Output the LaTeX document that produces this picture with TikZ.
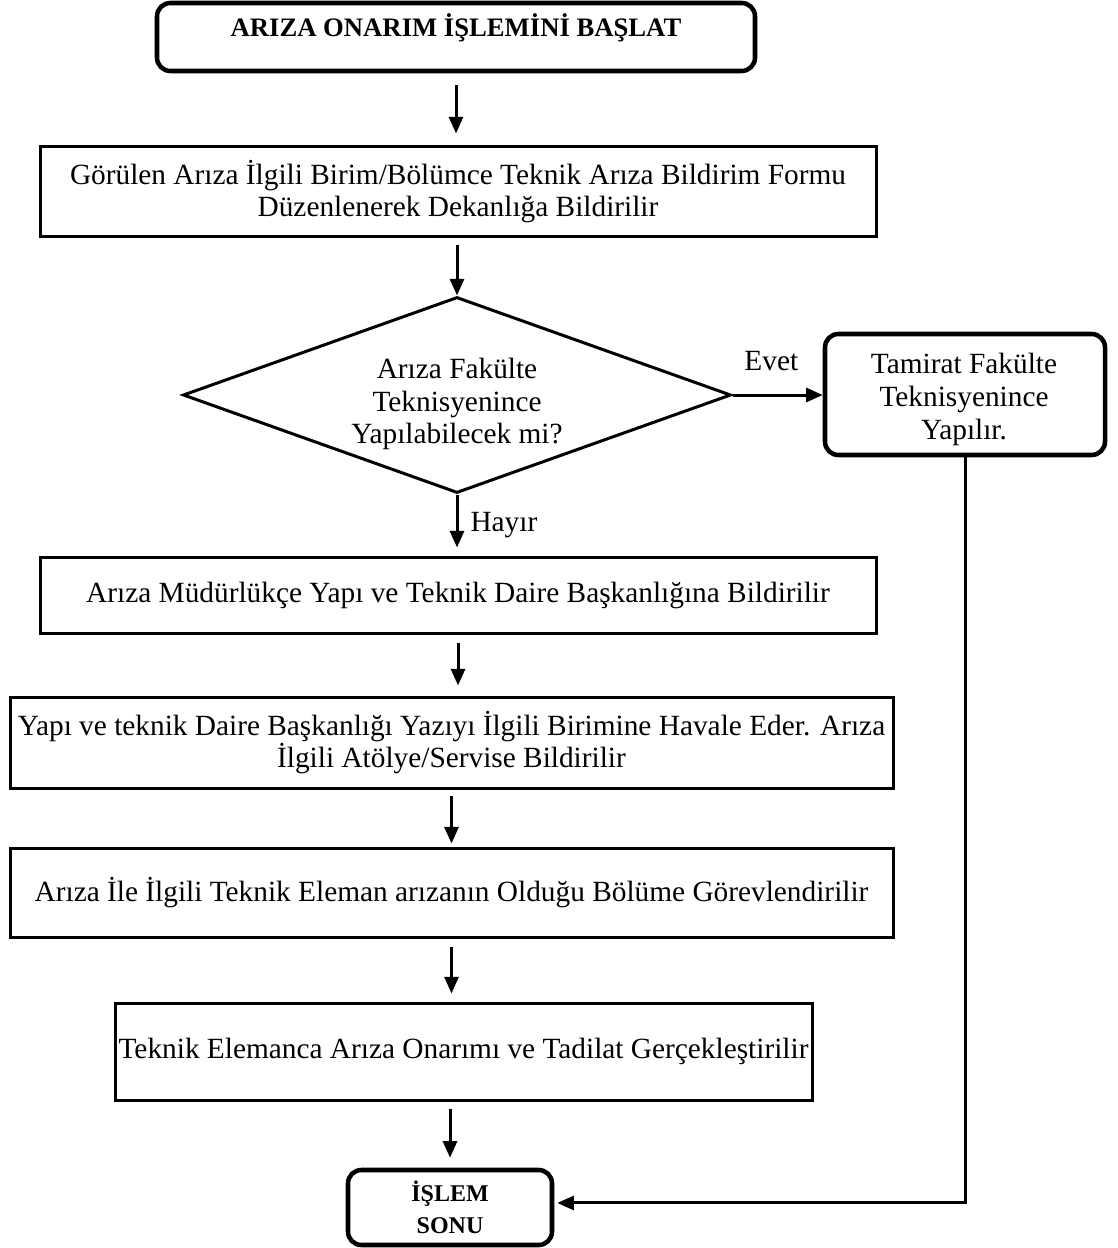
\documentclass[tikz,border=0pt]{standalone}
\usepackage{fontspec}
\setmainfont{Liberation Serif}
\usetikzlibrary{shapes.geometric,arrows.meta,calc}
\begin{document}
\begin{tikzpicture}[x=0.75pt,y=-0.75pt,
  every node/.style={font=\fontsize{22}{24}\selectfont},
  box/.style={draw, line width=2.25pt, rectangle, align=center, inner sep=0pt},
  rbox/.style={draw, line width=3.4pt, rounded corners=10pt, align=center, inner sep=0pt},
  dec/.style={diamond, draw, line width=2.25pt, aspect=2.8, inner sep=0pt},
  txt/.style={align=center, inner sep=0pt, font=\fontsize{22}{24.6}\selectfont},
  arr/.style={line width=2.25pt, -{Triangle[length=12.5pt,width=10.5pt]}},
  lbl/.style={inner sep=0pt}]
\useasboundingbox (0,0) rectangle (1117,1248);

\node[rbox, minimum width=448.5pt, minimum height=51pt, text height=14pt, text depth=14pt,
  font=\bfseries\fontsize{20}{24}\selectfont] (start) at (456,37) {ARIZA ONARIM İŞLEMİNİ BAŞLAT};

\node[box, minimum width=627pt, minimum height=67.5pt] (b2) at (458,192)
  {Görülen Arıza İlgili Birim/Bölümce Teknik Arıza Bildirim Formu\\Düzenlenerek Dekanlığa Bildirilir};

\node[dec, minimum width=411pt, minimum height=147pt] (q) at (457,395) {};
\node[txt] (qt) at (457,404) {Arıza Fakülte\\Teknisyenince\\Yapılabilecek mi?};

\node[rbox, minimum width=210pt, minimum height=90.75pt] (tam) at (965,394.5) {};
\node[txt] (tamt) at (964,399.5) {Tamirat Fakülte\\Teknisyenince\\Yapılır.};

\node[box, minimum width=627pt, minimum height=57pt] (b3) at (458,595)
  {Arıza Müdürlükçe Yapı ve Teknik Daire Başkanlığına Bildirilir};

\node[box, minimum width=662.25pt, minimum height=68.25pt] (b4) at (451.5,742.5)
  {Yapı ve teknik Daire Başkanlığı Yazıyı İlgili Birimine Havale Eder. Arıza\\İlgili Atölye/Servise Bildirilir};

\node[box, minimum width=662.25pt, minimum height=66.75pt] (b5) at (451.5,892.5)
  {Arıza İle İlgili Teknik Eleman arızanın Olduğu Bölüme Görevlendirilir};

\node[box, minimum width=522.75pt, minimum height=72.75pt] (b6) at (463.5,1051.5)
  {Teknik Elemanca Arıza Onarımı ve Tadilat Gerçekleştirilir};

\node[rbox, minimum width=153pt, minimum height=56.25pt, font=\bfseries\fontsize{18}{24}\selectfont] (end) at (450,1207.5)
  {İŞLEM\\SONU};

\draw[arr, shorten <=9pt, shorten >=9pt] (start.south) -- (start.south |- b2.north);
\draw[arr, shorten <=5.25pt] (b2.south -| q.north) -- (q.north);
\draw[arr, shorten >=6pt] (q.south) -- (q.south |- b3.north)
  node[midway, right, lbl, xshift=9pt] {Hayır};
\draw[arr] (q.east) -- (q.east -| tam.west)
  node[pos=0.43, above=17pt, lbl] {Evet};
\draw[arr, shorten <=6pt, shorten >=7.5pt] (b3.south) -- (b3.south |- b4.north);
\draw[arr, shorten <=4.5pt, shorten >=2.25pt] (b4.south) -- (b4.south |- b5.north);
\draw[arr, shorten <=6pt, shorten >=6pt] (b5.south) -- (b5.south |- b6.north);
\draw[arr, shorten <=5.25pt, shorten >=7.5pt] (end.north |- b6.south) -- (end.north);
\draw[arr, shorten >=2.25pt] (tam.south) |- ([yshift=3.4pt]end.east);
\end{tikzpicture}
\end{document}
